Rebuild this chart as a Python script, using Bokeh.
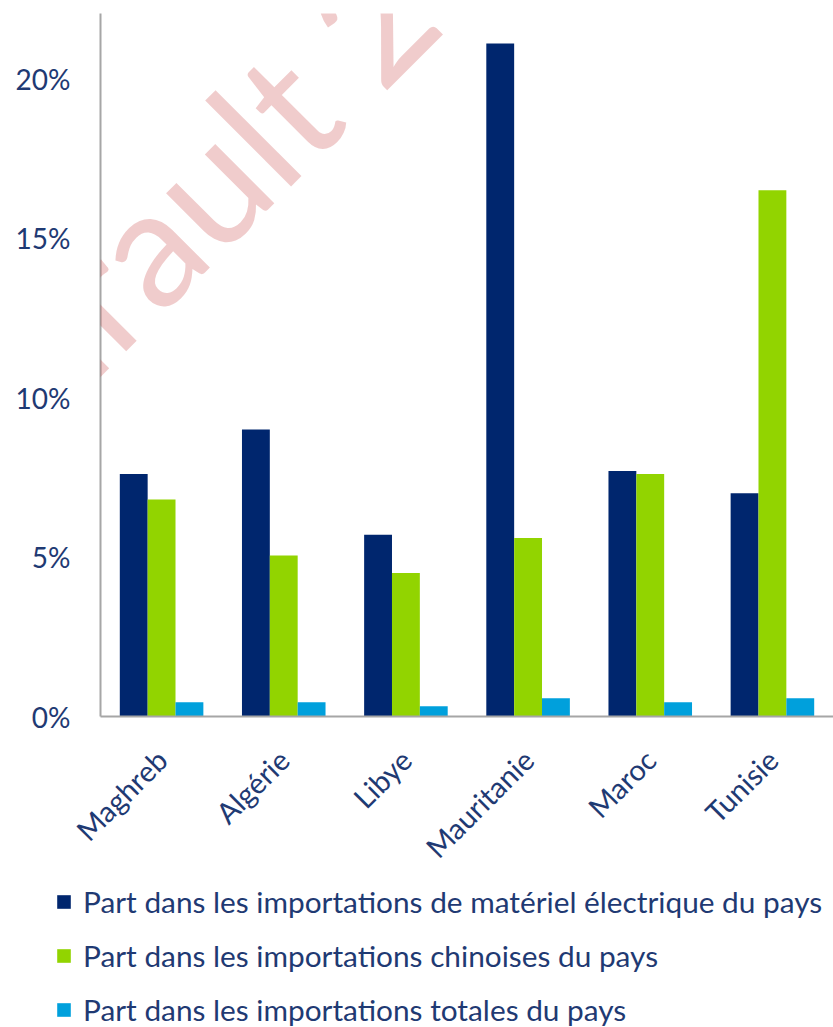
import math
from bokeh.plotting import figure
from bokeh.layouts import column, row
from bokeh.models import (ColumnDataSource, FactorRange, Range1d, FixedTicker,
                          PrintfTickFormatter, Legend, LegendItem, Label)
from bokeh.transform import dodge
from bokeh.embed import file_html
from bokeh.resources import INLINE

categories = ["Maghreb", "Algérie", "Libye", "Mauritanie", "Maroc", "Tunisie"]
part_materiel_electrique = [7.6, 9.0, 5.7, 21.1, 7.7, 7.0]
part_importations_chinoises = [6.8, 5.05, 4.5, 5.6, 7.6, 16.5]
part_importations_totales = [0.45, 0.45, 0.32, 0.57, 0.45, 0.57]
y_ticks = [0, 5, 10, 15, 20]
legend_labels = [
    "Part dans les importations de matériel électrique du pays",
    "Part dans les importations chinoises du pays",
    "Part dans les importations totales du pays",
]
watermark_text = "Pairault 20"

colors = ["#00266E", "#92D400", "#00A0DC"]
text_color = "#1F3A73"
FONT = "Lato"

src = ColumnDataSource(dict(cat=categories,
                            a=part_materiel_electrique,
                            b=part_importations_chinoises,
                            c=part_importations_totales))

w = 0.228


def add_bars(fig):
    rs = []
    for off, col, c in ((-w, "a", colors[0]), (0, "b", colors[1]), (w, "c", colors[2])):
        rs.append(fig.vbar(x=dodge("cat", off, range=fig.x_range), top=col, width=w,
                           source=src, fill_color=c, line_color=None))
    return rs


# ---- main chart ----
p = figure(width=833, height=880, output_backend="svg", toolbar_location=None,
           x_range=FactorRange(*categories, range_padding=0),
           y_range=Range1d(0, 22.04),
           min_border_left=100, min_border_right=0, min_border_top=13,
           min_border_bottom=164)
p.outline_line_color = None
p.xgrid.visible = False
p.ygrid.visible = False
add_bars(p)

for ax in (p.xaxis, p.yaxis):
    ax.axis_line_color = "#A6A6A6"
    ax.axis_line_width = 2
    ax.major_tick_line_color = None
    ax.minor_tick_line_color = None
    ax.major_tick_out = 0
    ax.major_tick_in = 0
    ax.minor_tick_out = 0
    ax.major_label_text_color = text_color
    ax.major_label_text_font = FONT

p.yaxis.ticker = FixedTicker(ticks=y_ticks)
p.yaxis.formatter = PrintfTickFormatter(format="%d%%")
p.yaxis.major_label_text_font_size = "28px"
p.yaxis.major_label_standoff = 30
p.xaxis.major_label_orientation = math.pi / 4
p.xaxis.major_label_text_font_size = "29px"
p.xaxis.major_label_standoff = 38

wm = Label(x=-182, y=248, x_units="screen", y_units="screen", text=watermark_text,
           angle=math.pi / 4, text_font=FONT, text_font_size="165px",
           text_color="#B40000", text_alpha=0.2, text_baseline="alphabetic")
p.add_layout(wm)

# ---- legend strip ----
pl = figure(width=833, height=147, output_backend="svg", toolbar_location=None,
            x_range=FactorRange(*categories, range_padding=0),
            y_range=Range1d(100, 101), x_axis_type=None, y_axis_type=None,
            min_border=0)
pl.outline_line_color = None
pl.grid.visible = False
lr = add_bars(pl)

legend = Legend(items=[LegendItem(label=legend_labels[i], renderers=[lr[i]]) for i in range(3)],
                location=(55, 0), orientation="vertical",
                border_line_color=None, background_fill_alpha=0,
                glyph_width=17, glyph_height=17, label_height=30,
                spacing=19, label_standoff=11, padding=0, margin=0,
                label_text_font=FONT, label_text_font_size="29.8px",
                label_text_color=text_color)
pl.add_layout(legend)

layout = column(p, row(pl), spacing=0)
open("out.html", "w").write(file_html(layout, INLINE))
